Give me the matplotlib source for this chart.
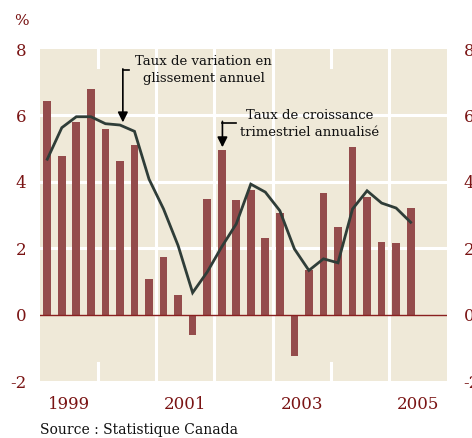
import numpy as np
import matplotlib.pyplot as plt

# Quarterly data, 1999Q1 - 2005Q2
quarters = np.arange(26)
qoq_annualized = [6.44, 4.78, 5.81, 6.80, 5.59, 4.63, 5.11, 1.08,
                  1.75, 0.59, -0.62, 3.48, 4.96, 3.45, 3.76, 2.31,
                  3.06, -1.25, 1.33, 3.66, 2.63, 5.06, 3.55, 2.18,
                  2.16, 3.20]
yoy_change = [4.68, 5.63, 5.96, 5.96, 5.75, 5.71, 5.52, 4.08,
              3.18, 2.08, 0.66, 1.28, 2.04, 2.73, 3.93, 3.69,
              3.13, 1.98, 1.33, 1.68, 1.56, 3.18, 3.73, 3.36,
              3.21, 2.78]
year_labels = ['1999', '2001', '2003', '2005']
year_pos = [1.5, 9.5, 17.5, 25.5]
y_ticks = [-2, 0, 2, 4, 6, 8]

bg = '#efe9d8'
bar_color = '#944c4c'
line_color = '#2f3d38'
label_red = '#7a1414'
serif = 'DejaVu Serif'

fig = plt.figure(figsize=(4.72, 4.38), dpi=100)
ax = fig.add_axes([40 / 472, 1 - 381 / 438, 407 / 472, 332 / 438])
ax.set_facecolor(bg)
ax.set_xlim(-0.5, 27.5)
ax.set_ylim(-2, 8)

# white grid
for y in [2, 4, 6]:
    ax.axhline(y, color='white', lw=2.2, zorder=1)
for x in [7.5, 11.5, 15.5, 23.5]:
    ax.axvline(x, color='white', lw=2.2, zorder=1)
for x in [3.5, 19.5]:
    ax.plot([x, x], [7.45, 8], color='white', lw=2.2, zorder=1)
    ax.plot([x, x], [-2, -1.45], color='white', lw=2.2, zorder=1)

ax.bar(quarters, qoq_annualized, width=0.53, color=bar_color, zorder=2)
ax.axhline(0, color='#8a2020', lw=1.0, zorder=3)
ax.plot(quarters, yoy_change, color=line_color, lw=2.0, zorder=4,
        solid_joinstyle='miter')

for s in ax.spines.values():
    s.set_visible(False)

ax.set_yticks(y_ticks)
ax.set_yticklabels([str(v) for v in y_ticks])
ax.set_xticks(year_pos)
ax.set_xticklabels(year_labels)
ax.tick_params(axis='y', length=0, pad=10, labelsize=12, labelcolor=label_red)
ax.tick_params(axis='x', length=0, pad=11, labelsize=12, labelcolor=label_red)
for lab in ax.get_yticklabels() + ax.get_xticklabels():
    lab.set_family(serif)

ax2 = ax.twinx()
ax2.set_ylim(-2, 8)
ax2.set_yticks(y_ticks)
ax2.set_yticklabels([str(v) for v in y_ticks], family=serif)
ax2.tick_params(axis='y', length=0, pad=12, labelsize=12, labelcolor=label_red)
for s in ax2.spines.values():
    s.set_visible(False)

fig.text(14 / 472, 1 - 21 / 438, '%', color=label_red, fontsize=11,
         family=serif, va='center', ha='left')

# annotations
ax.text(10.75, 7.38, 'Taux de variation en\nglissement annuel', ha='center',
        va='center', fontsize=9.5, family=serif, color='#111111',
        linespacing=1.4)
ax.plot([5.2, 5.6], [7.36, 7.36], color='black', lw=1.2, zorder=5)
ax.annotate('', xy=(5.2, 5.79), xytext=(5.2, 7.40),
            arrowprops=dict(arrowstyle='-|>', color='black', lw=1.2,
                            mutation_scale=15, shrinkA=0, shrinkB=0), zorder=5)

ax.text(18.07, 5.75, 'Taux de croissance\ntrimestriel annualisé', ha='center',
        va='center', fontsize=9.5, family=serif, color='#111111',
        linespacing=1.4)
ax.plot([12.05, 13.0], [5.78, 5.78], color='black', lw=1.2, zorder=5)
ax.annotate('', xy=(12.05, 5.04), xytext=(12.05, 5.82),
            arrowprops=dict(arrowstyle='-|>', color='black', lw=1.2,
                            mutation_scale=15, shrinkA=0, shrinkB=0), zorder=5)

fig.text(40 / 472, 1 - 430 / 438, 'Source : Statistique Canada', fontsize=10,
         family=serif, color='#111111', va='center', ha='left')

fig.savefig('out.png', dpi=100)
